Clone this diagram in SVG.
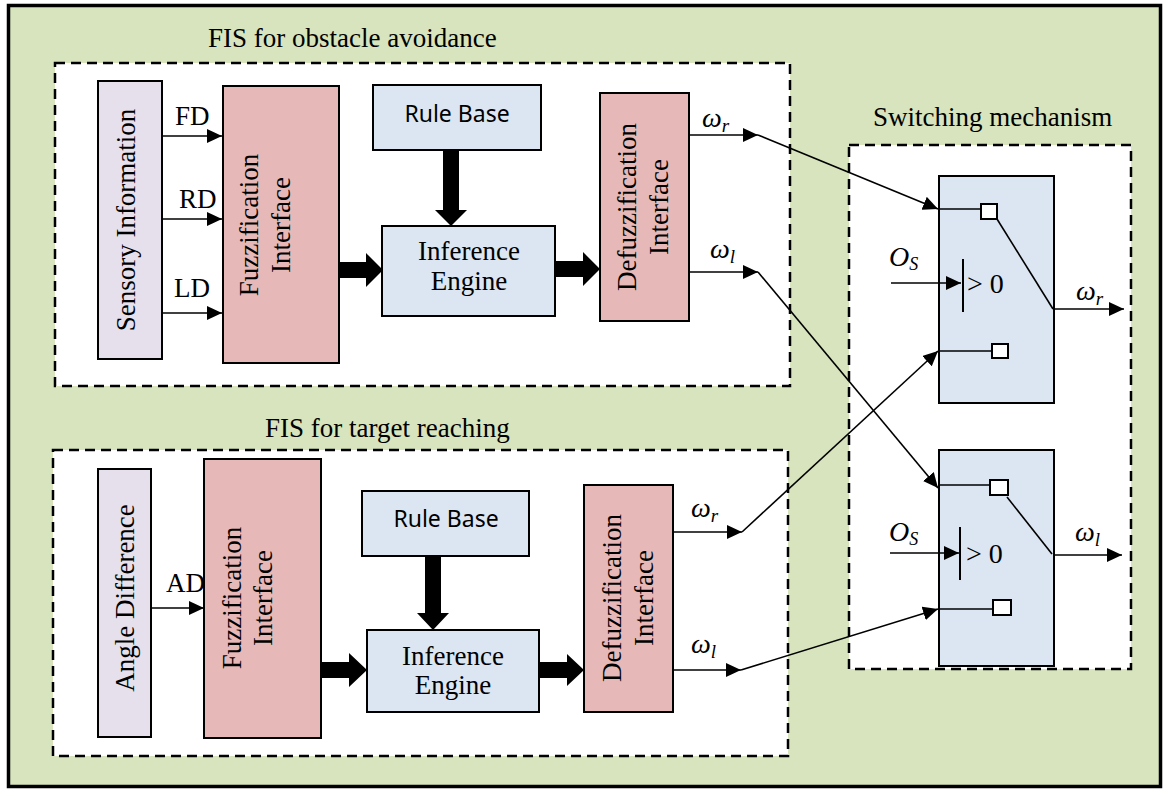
<svg xmlns="http://www.w3.org/2000/svg" width="1164" height="792" viewBox="0 0 1164 792">
<defs>
<marker id="ah" markerUnits="userSpaceOnUse" markerWidth="15" markerHeight="14" refX="15" refY="7" orient="auto">
<path d="M0,0 L15,7 L0,14 z" fill="#000"/>
</marker>
<style>
.box{stroke:#000;stroke-width:2}
.dash{fill:#fff;stroke:#000;stroke-width:2.5;stroke-dasharray:10 6}
.lav{fill:#E6E0EC}
.pink{fill:#E6B9B8}
.blue{fill:#DCE6F2}
.serif{font-family:"Liberation Serif","Times New Roman",serif;font-size:27px;fill:#000}
.sans{font-family:"Noto Sans","Open Sans",sans-serif;font-size:23px;fill:#000}
.math{font-family:"Liberation Serif","Times New Roman",serif;font-style:italic;font-size:28px;fill:#000}
.gt{font-family:"Liberation Serif","Times New Roman",serif;font-size:28px;fill:#000}
.ln{stroke:#000;stroke-width:1.6;fill:none}
.arr{stroke:#000;stroke-width:1.6;fill:none;marker-end:url(#ah)}
.thick{fill:#000}
.sq{fill:#fff;stroke:#000;stroke-width:2}
</style>
</defs>
<rect x="8.5" y="5.5" width="1152" height="781" fill="#D7E4BD" stroke="#000" stroke-width="3.5"/>

<g id="fis-obstacle">
<rect class="dash" x="55" y="63" width="735" height="323"/>
<text class="serif" x="208" y="47">FIS for obstacle avoidance</text>
</g>
<g id="fis-target">
<rect class="dash" x="53" y="450" width="735" height="306"/>
<text class="serif" x="265" y="437">FIS for target reaching</text>
</g>
<g id="switching">
<rect class="dash" x="849" y="145" width="282" height="524"/>
<text class="serif" x="873" y="126">Switching mechanism</text>
</g>

<g id="sensory">
<rect class="box lav" x="98" y="81" width="64" height="278"/>
<text class="serif" text-anchor="middle" transform="translate(135,220) rotate(-90)">Sensory Information</text>
</g>
<g id="fuzz1">
<rect class="box pink" x="223" y="86" width="116" height="277"/>
<text class="serif" text-anchor="middle" transform="translate(258,225) rotate(-90)">Fuzzification</text>
<text class="serif" text-anchor="middle" transform="translate(290,225) rotate(-90)">Interface</text>
</g>
<g id="rule1">
<rect class="box blue" x="373" y="85" width="168" height="65"/>
<text class="sans" x="457" y="122" text-anchor="middle">Rule Base</text>
</g>
<g id="inf1">
<rect class="box blue" x="382" y="226" width="173" height="90"/>
<text class="serif" x="469" y="260" text-anchor="middle">Inference</text>
<text class="serif" x="469" y="290" text-anchor="middle">Engine</text>
</g>
<g id="defuzz1">
<rect class="box pink" x="600" y="93" width="89" height="228"/>
<text class="serif" text-anchor="middle" transform="translate(636,207) rotate(-90)">Defuzzification</text>
<text class="serif" text-anchor="middle" transform="translate(668,207) rotate(-90)">Interface</text>
</g>

<g id="angle">
<rect class="box lav" x="98" y="469" width="53" height="268"/>
<text class="serif" text-anchor="middle" transform="translate(134,598) rotate(-90)">Angle Difference</text>
</g>
<g id="fuzz2">
<rect class="box pink" x="204" y="459" width="117" height="279"/>
<text class="serif" text-anchor="middle" transform="translate(241,598) rotate(-90)">Fuzzification</text>
<text class="serif" text-anchor="middle" transform="translate(272,598) rotate(-90)">Interface</text>
</g>
<g id="rule2">
<rect class="box blue" x="362" y="491" width="167" height="65"/>
<text class="sans" x="446" y="527" text-anchor="middle">Rule Base</text>
</g>
<g id="inf2">
<rect class="box blue" x="367" y="630" width="172" height="82"/>
<text class="serif" x="453" y="665" text-anchor="middle">Inference</text>
<text class="serif" x="453" y="694" text-anchor="middle">Engine</text>
</g>
<g id="defuzz2">
<rect class="box pink" x="584" y="485" width="89" height="227"/>
<text class="serif" text-anchor="middle" transform="translate(621,598) rotate(-90)">Defuzzification</text>
<text class="serif" text-anchor="middle" transform="translate(653,598) rotate(-90)">Interface</text>
</g>

<g id="switch1">
<rect class="box blue" x="939" y="176" width="115" height="227"/>
<line class="ln" x1="939" y1="209" x2="981" y2="209"/>
<rect class="sq" x="981" y="204" width="16" height="15"/>
<line class="ln" x1="939" y1="351" x2="992" y2="351"/>
<rect class="sq" x="992" y="344" width="16" height="14"/>
<line class="ln" x1="997" y1="219" x2="1053" y2="309"/>
<line x1="963" y1="259" x2="963" y2="312" stroke="#000" stroke-width="2"/>
<text class="gt" x="967" y="293">&gt; 0</text>
</g>
<g id="switch2">
<rect class="box blue" x="939" y="450" width="115" height="216"/>
<line class="ln" x1="939" y1="485" x2="990" y2="485"/>
<rect class="sq" x="990" y="480" width="18" height="15"/>
<line class="ln" x1="939" y1="609" x2="993" y2="609"/>
<rect class="sq" x="993" y="600" width="18" height="15"/>
<line class="ln" x1="1007" y1="497" x2="1052" y2="554"/>
<line x1="960" y1="527" x2="960" y2="580" stroke="#000" stroke-width="2"/>
<text class="gt" x="966" y="563">&gt; 0</text>
</g>

<g id="connectors">
<line class="arr" x1="162" y1="136" x2="222" y2="136"/>
<line class="arr" x1="162" y1="219" x2="222" y2="219"/>
<line class="arr" x1="162" y1="313" x2="222" y2="313"/>
<line class="arr" x1="151" y1="608" x2="204" y2="608"/>
<polygon class="thick" points="339,262 366,262 366,253 383,270 366,287 366,278 339,278"/>
<polygon class="thick" points="443,150 459,150 459,210 467,210 451,226 435,210 443,210"/>
<polygon class="thick" points="555,261 583,261 583,252 600,269 583,286 583,277 555,277"/>
<polygon class="thick" points="321,662 349,662 349,653 367,670 349,687 349,678 321,678"/>
<polygon class="thick" points="425,556 441,556 441,613 449,613 433,630 417,613 425,613"/>
<polygon class="thick" points="539,662 567,662 567,654 584,670 567,686 567,678 539,678"/>
<line class="arr" x1="689" y1="135" x2="758" y2="135"/>
<line class="arr" x1="689" y1="272" x2="758" y2="272"/>
<line class="arr" x1="673" y1="532" x2="742" y2="532"/>
<line class="arr" x1="673" y1="670" x2="741" y2="670"/>
<line class="arr" x1="758" y1="135" x2="938" y2="209"/>
<line class="arr" x1="758" y1="272" x2="938" y2="488"/>
<line class="arr" x1="742" y1="532" x2="938" y2="351"/>
<line class="arr" x1="741" y1="670" x2="938" y2="609"/>
<line class="arr" x1="1054" y1="309" x2="1124" y2="309"/>
<line class="arr" x1="1054" y1="555" x2="1122" y2="555"/>
<line class="arr" x1="891" y1="283" x2="961" y2="283"/>
<line class="arr" x1="890" y1="553" x2="959" y2="553"/>
</g>

<g id="labels">
<text class="serif" x="175" y="125">FD</text>
<text class="serif" x="179" y="208">RD</text>
<text class="serif" x="174" y="297">LD</text>
<text class="serif" x="166" y="592">AD</text>
<text class="math" x="702" y="127">ω<tspan font-size="19" dy="5">r</tspan></text>
<text class="math" x="710" y="258">ω<tspan font-size="19" dy="5">l</tspan></text>
<text class="math" x="691" y="517">ω<tspan font-size="19" dy="5">r</tspan></text>
<text class="math" x="691" y="653">ω<tspan font-size="19" dy="5">l</tspan></text>
<text class="math" x="1076" y="300">ω<tspan font-size="19" dy="5">r</tspan></text>
<text class="math" x="1075" y="541">ω<tspan font-size="19" dy="5">l</tspan></text>
<text class="math" x="889" y="266" font-size="26">O<tspan font-size="18" dy="4">S</tspan></text>
<text class="math" x="889" y="541" font-size="26">O<tspan font-size="18" dy="4">S</tspan></text>
</g>
</svg>
